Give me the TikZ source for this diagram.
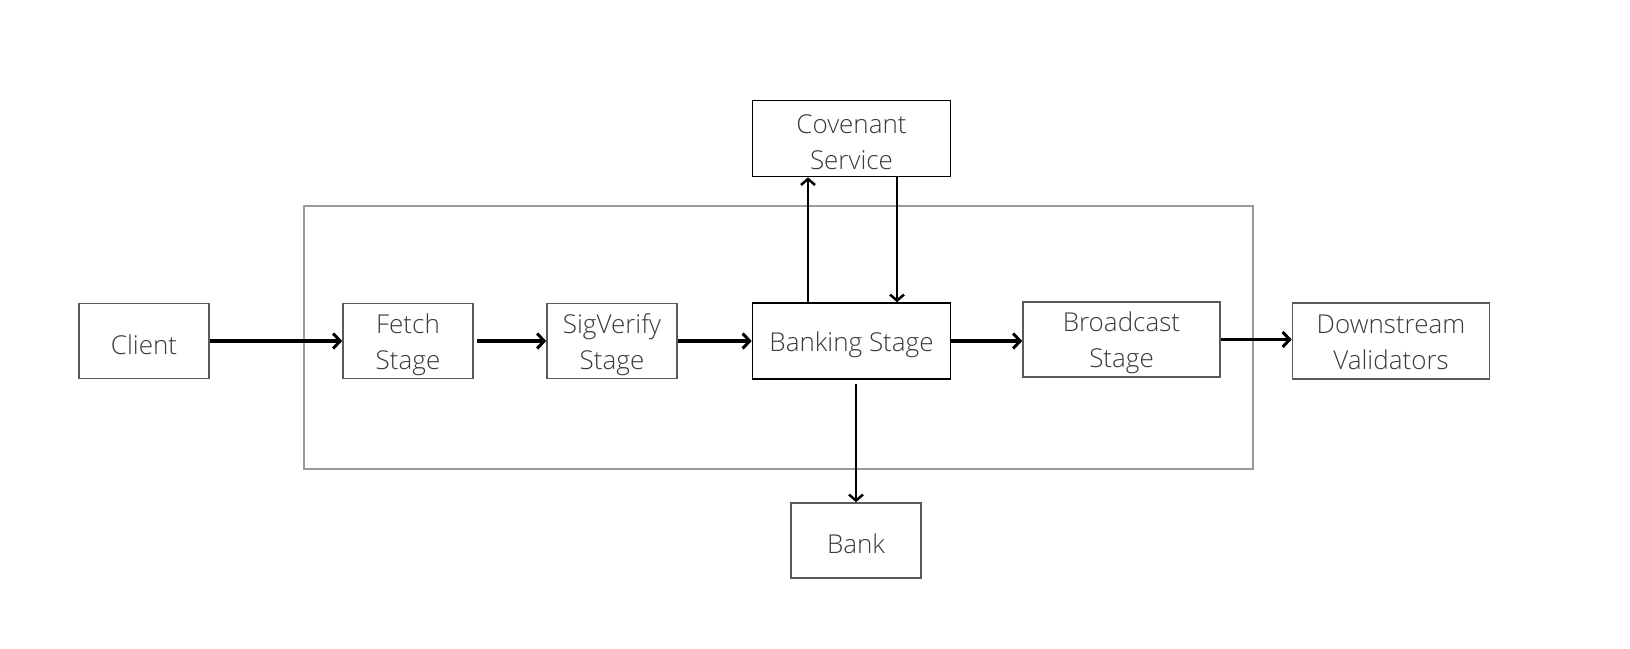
\documentclass[tikz,border=0pt]{standalone}
\usepackage{fontspec}
\IfFontExistsTF{Open Sans Light}{\setmainfont{Open Sans Light}}{\setmainfont{Open Sans}}
\usetikzlibrary{arrows.meta}
\definecolor{txt}{HTML}{3A3A3A}
\definecolor{edgegray}{HTML}{5A5A5A}
\definecolor{framegray}{HTML}{9A9A9A}
\tikzset{
  box/.style={draw=edgegray, line width=1.6pt, fill=white, inner sep=0pt},
  darkbox/.style={box, draw=black},
  lbl/.style={align=center, text=txt, font=\fontsize{26}{36}\selectfont, inner sep=0pt, yshift=-3.5pt},
  arr/.style={draw=black, line width=3.2pt, -{Straight Barb[length=7pt,width=15pt,line width=3pt]}},
  varr/.style={draw=black, line width=2.4pt, -{Straight Barb[length=6pt,width=14pt,line width=2.5pt]}}
}
\begin{document}
\begin{tikzpicture}[x=1pt,y=-1pt]
\useasboundingbox[fill=white] (0,0) rectangle (1630,648);
\draw[framegray, line width=1.8pt] (304,206) rectangle (1253,469);
\node[box, minimum width=130pt, minimum height=75pt, label={[lbl]center:Client}] (client) at (144,341) {};
\node[box, minimum width=130pt, minimum height=75pt, label={[lbl]center:Fetch\\Stage}] (fetch) at (408,341) {};
\node[box, minimum width=130pt, minimum height=75pt, label={[lbl]center:SigVerify\\Stage}] (sig) at (612,341) {};
\node[darkbox, minimum width=198pt, minimum height=76pt, label={[lbl]center:Banking Stage}] (bank stage) at (851.5,341) {};
\node[box, minimum width=197pt, minimum height=75pt, label={[lbl]center:Broadcast\\Stage}] (broadcast) at (1121.5,339.5) {};
\node[box, minimum width=197pt, minimum height=76pt, label={[lbl, yshift=2pt]center:Downstream\\Validators}] (down) at (1391,341) {};
\node[darkbox, minimum width=198pt, minimum height=76pt, label={[lbl]center:Covenant\\Service}] (cov) at (851.5,138.5) {};
\node[box, minimum width=130pt, minimum height=75pt, label={[lbl]center:Bank}] (bank) at (856,540.5) {};
\draw[arr] (client.east) -- (fetch.west);
\draw[arr, shorten <=3pt] (fetch.east) -- (sig.west);
\draw[arr] (sig.east) -- (bank stage.west);
\draw[arr] (bank stage.east) -- (broadcast.west |- bank stage.east);
\draw[arr] (broadcast.east) -- (down.west |- broadcast.east);
\draw[varr] ([xshift=-43.5pt]bank stage.north) -- ([xshift=-43.5pt]cov.south);
\draw[varr] ([xshift=45.5pt]cov.south) -- ([xshift=45.5pt]bank stage.north);
\draw[varr, shorten <=4pt] (bank.north |- bank stage.south) -- (bank.north);
\end{tikzpicture}
\end{document}
